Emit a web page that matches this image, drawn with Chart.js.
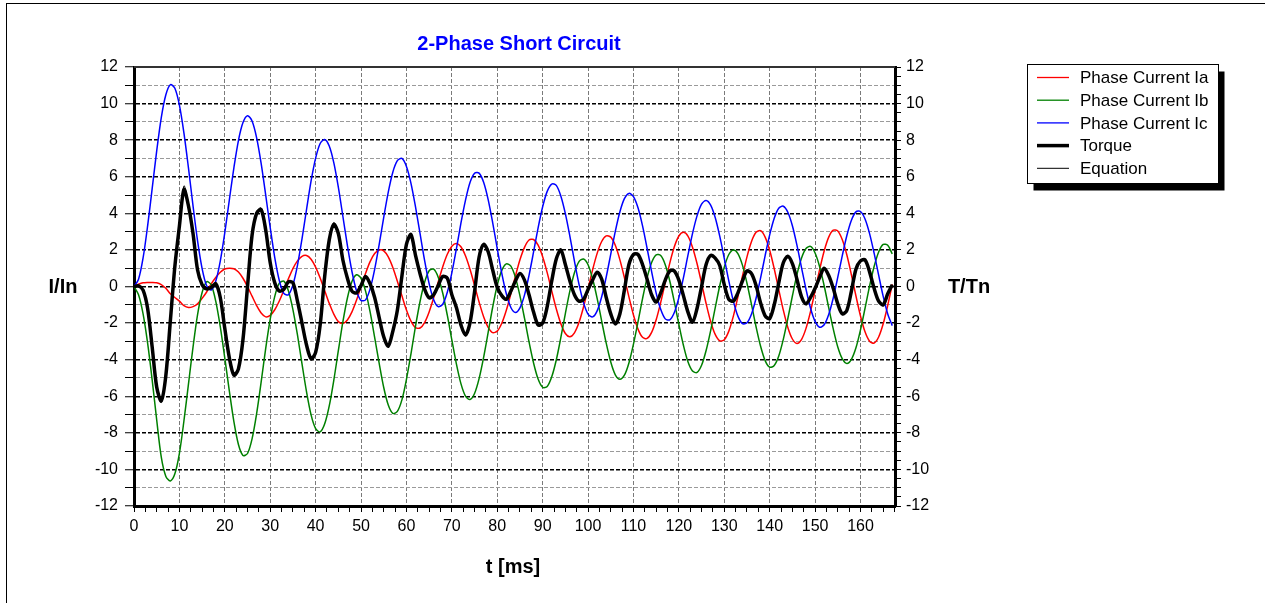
<!DOCTYPE html>
<html>
<head>
<meta charset="utf-8">
<title>2-Phase Short Circuit</title>
<script src="https://cdn.jsdelivr.net/npm/chart.js@4.4.1/dist/chart.umd.min.js"></script>
<style>
  html, body { margin: 0; padding: 0; background: #fff; overflow: hidden; }
  #frame { position: absolute; left: 6px; top: 3px; width: 1300px; height: 700px;
           border-left: 1px solid #000; border-top: 1px solid #000; }
  #wrap { position: absolute; left: 0; top: 0; width: 1265px; height: 603px; }
</style>
</head>
<body>
<div id="frame"></div>
<div id="wrap"><canvas id="shortCircuit" width="1265" height="603"></canvas></div>
<script>

var chartTitle = "2-Phase Short Circuit";
var seriesNames = ["Phase Current Ia", "Phase Current Ib", "Phase Current Ic", "Torque", "Equation"];

var timeMs = [0,1,2,3,4,5,6,7,8,9,10,11,12,13,14,15,16,17,18,19,20,21,22,23,24,25,26,27,28,29,
  30,31,32,33,34,35,36,37,38,39,40,41,42,43,44,45,46,47,48,49,50,51,52,53,54,55,56,57,58,59,
  60,61,62,63,64,65,66,67,68,69,70,71,72,73,74,75,76,77,78,79,80,81,82,83,84,85,86,87,88,89,
  90,91,92,93,94,95,96,97,98,99,100,101,102,103,104,105,106,107,108,109,110,111,112,113,114,
  115,116,117,118,119,120,121,122,123,124,125,126,127,128,129,130,131,132,133,134,135,136,137,
  138,139,140,141,142,143,144,145,146,147,148,149,150,151,152,153,154,155,156,157,158,159,160,
  161,162,163,164,165,166,167];

var currentA = [0,0.12,0.2,0.22,0.22,0.2,0.1,-0.1,-0.4,-0.6,-0.8,-1.05,-1.15,-1.1,-0.95,-0.65,-0.3,
  0.14,0.49,0.78,0.96,1.0,0.97,0.79,0.45,-0.01,-0.53,-1.04,-1.45,-1.66,-1.58,-1.27,-0.79,-0.2,
  0.42,0.98,1.4,1.65,1.69,1.49,1.06,0.46,-0.23,-0.92,-1.51,-1.92,-2.02,-1.83,-1.39,-0.75,-0.01,
  0.72,1.36,1.8,1.99,1.95,1.62,1.04,0.29,-0.51,-1.28,-1.89,-2.25,-2.27,-1.97,-1.39,-0.62,0.25,
  1.08,1.76,2.2,2.35,2.17,1.68,0.94,0.06,-0.85,-1.65,-2.23,-2.52,-2.44,-2.01,-1.3,-0.4,0.56,
  1.46,2.14,2.54,2.57,2.26,1.63,0.76,-0.24,-1.22,-2.03,-2.57,-2.75,-2.53,-1.97,-1.12,-0.12,0.91,
  1.81,2.46,2.77,2.7,2.25,1.47,0.49,-0.57,-1.56,-2.33,-2.78,-2.84,-2.51,-1.82,-0.87,0.21,1.28,
  2.17,2.76,2.97,2.76,2.15,1.26,0.18,-0.93,-1.91,-2.62,-2.97,-2.91,-2.44,-1.62,-0.57,0.56,1.62,
  2.46,2.96,3.05,2.7,1.98,0.97,-0.17,-1.29,-2.24,-2.87,-3.11,-2.9,-2.29,-1.36,-0.24,0.92,1.94,
  2.7,3.08,3.03,2.55,1.72,0.64,-0.52,-1.61,-2.48,-2.99,-3.09,-2.76,-2.04,-1.03,0.12];

var currentB = [0,-0.45,-1.5,-3.1,-5.1,-7.3,-9.32,-10.37,-10.63,-10.24,-9.12,-7.34,-5.32,-3.31,-1.54,-0.33,0.26,
  0.09,-0.8,-2.2,-3.92,-5.72,-7.39,-8.64,-9.24,-9.13,-8.33,-6.96,-5.23,-3.4,-1.79,-0.54,0.18,0.29,
  -0.23,-1.26,-2.65,-4.23,-5.76,-7.02,-7.77,-7.95,-7.51,-6.53,-5.13,-3.51,-1.94,-0.63,0.27,0.64,0.45,
  -0.25,-1.39,-2.78,-4.2,-5.52,-6.48,-6.94,-6.83,-6.2,-5.08,-3.68,-2.17,-0.82,0.23,0.86,0.95,0.51,
  -0.37,-1.57,-2.92,-4.23,-5.31,-5.99,-6.18,-5.85,-5.04,-3.87,-2.51,-1.12,0.07,0.88,1.24,1.11,0.5,
  -0.51,-1.73,-3.03,-4.18,-5.06,-5.51,-5.47,-4.94,-4.02,-2.8,-1.48,-0.24,0.75,1.36,1.5,1.19,0.42,
  -0.65,-1.89,-3.1,-4.13,-4.83,-5.07,-4.85,-4.18,-3.15,-1.93,-0.66,0.47,1.31,1.73,1.69,1.19,0.3,
  -0.84,-2.07,-3.21,-4.12,-4.62,-4.7,-4.31,-3.5,-2.41,-1.17,0.04,1.06,1.75,2.0,1.8,1.17,0.18,
  -0.99,-2.2,-3.27,-4.05,-4.41,-4.32,-3.8,-2.89,-1.75,-0.52,0.65,1.55,2.08,2.19,1.83,1.08,0.04,
  -1.16,-2.32,-3.31,-3.96,-4.21,-3.98,-3.35,-2.37,-1.19,0.02,1.09,1.89,2.3,2.25,1.78];

var currentC = [0,0.4,1.56,3.31,5.35,7.41,9.22,10.47,11.03,10.84,9.92,8.39,6.47,4.41,2.49,0.98,0.04,
  -0.19,0.29,1.39,2.95,4.74,6.49,7.98,8.96,9.34,9.05,8.14,6.73,5.01,3.22,1.58,0.33,-0.38,
  -0.45,0.09,1.16,2.61,4.21,5.77,7.02,7.82,8.04,7.68,6.77,5.43,3.84,2.23,0.82,-0.23,-0.76,
  -0.73,-0.13,0.94,2.3,3.78,5.16,6.25,6.88,7.0,6.56,5.64,4.35,2.89,1.43,0.16,-0.72,-1.1,
  -0.96,-0.31,0.75,2.06,3.46,4.71,5.68,6.19,6.2,5.7,4.75,3.48,2.07,0.72,-0.4,-1.15,-1.42,
  -1.17,-0.47,0.61,1.89,3.21,4.36,5.2,5.6,5.53,4.95,3.98,2.74,1.39,0.13,-0.88,-1.51,-1.66,
  -1.33,-0.56,0.52,1.77,3.01,4.07,4.8,5.09,4.91,4.3,3.31,2.09,0.81,-0.36,-1.25,-1.77,-1.82,
  -1.42,-0.61,0.47,1.71,2.89,3.86,4.5,4.7,4.45,3.77,2.75,1.54,0.3,-0.8,-1.62,-2.03,-1.98,
  -1.5,-0.64,0.47,1.69,2.82,3.73,4.28,4.39,4.06,3.32,2.26,1.05,-0.15,-1.19,-1.91,-2.23,-2.09,
  -1.53,-0.63,0.51,1.7,2.79,3.62,4.08,4.1,3.69,2.89,1.82,0.62,-0.54,-1.5,-2.14];

var torque = [0,0.03,-0.2,-1.2,-3.3,-5.5,-6.25,-4.9,-1.9,1.1,3.3,5.3,4.4,2.9,0.9,0.1,-0.13,
  -0.05,0.15,-0.6,-2.3,-3.9,-4.85,-4.5,-2.9,0.0,2.8,4.0,4.2,3.1,1.3,0.2,-0.25,-0.15,
  0.25,0.2,-0.8,-2.0,-3.2,-3.95,-3.6,-2.1,0.56,2.55,3.4,2.9,1.45,0.45,-0.25,-0.35,0.05,
  0.55,0.15,-0.6,-1.7,-2.75,-3.26,-2.45,-1.3,0.56,2.3,2.84,1.7,0.7,-0.15,-0.62,-0.45,0.05,
  0.55,0.45,-0.45,-1.15,-2.1,-2.65,-1.99,-0.3,1.6,2.3,1.9,0.9,-0.05,-0.5,-0.7,-0.25,0.3,
  0.71,0.35,-0.45,-1.4,-2.1,-2.0,-1.1,0.3,1.5,2.0,1.2,0.3,-0.45,-0.8,-0.7,-0.16,0.35,
  0.78,0.4,-0.6,-1.5,-2.05,-1.5,-0.2,1.2,1.75,1.75,1.2,0.4,-0.45,-0.85,-0.35,0.35,0.85,
  0.85,0.35,-0.5,-1.4,-1.95,-1.2,0.0,1.2,1.7,1.55,1.15,0.1,-0.7,-0.8,-0.35,0.3,0.85,
  0.7,0.05,-0.9,-1.6,-1.75,-1.0,0.2,1.3,1.65,1.25,0.4,-0.55,-0.95,-0.6,-0.1,0.5,1.0,
  0.6,-0.1,-0.95,-1.5,-1.3,-0.25,0.95,1.4,1.45,0.8,-0.1,-0.8,-1.0,-0.4,0.1];

var equation = [0,0.03,-0.2,-1.2,-3.3,-5.55,-6.35,-4.95,-1.9,1.1,3.35,5.5,4.5,2.9,0.9,0.1,-0.13,
  -0.05,0.15,-0.6,-2.3,-3.95,-4.9,-4.55,-2.9,0.0,2.85,4.1,4.3,3.1,1.3,0.2,-0.25,-0.15,
  0.25,0.2,-0.8,-2.0,-3.2,-4.0,-3.6,-2.1,0.56,2.6,3.5,2.9,1.45,0.45,-0.25,-0.35,0.05,
  0.55,0.15,-0.6,-1.7,-2.75,-3.3,-2.45,-1.3,0.56,2.3,2.9,1.7,0.7,-0.15,-0.62,-0.45,0.05,
  0.55,0.45,-0.45,-1.15,-2.1,-2.7,-1.99,-0.3,1.6,2.35,1.9,0.9,-0.05,-0.5,-0.7,-0.25,0.3,
  0.71,0.35,-0.45,-1.4,-2.1,-2.0,-1.1,0.3,1.5,2.05,1.2,0.3,-0.45,-0.8,-0.7,-0.16,0.35,
  0.78,0.4,-0.6,-1.5,-2.05,-1.5,-0.2,1.2,1.8,1.75,1.2,0.4,-0.45,-0.85,-0.35,0.35,0.85,
  0.9,0.35,-0.5,-1.4,-1.95,-1.2,0.0,1.2,1.75,1.55,1.15,0.1,-0.7,-0.85,-0.35,0.3,0.9,
  0.7,0.05,-0.9,-1.6,-1.8,-1.0,0.2,1.3,1.7,1.25,0.4,-0.55,-0.95,-0.6,-0.1,0.5,1.0,
  0.6,-0.1,-0.95,-1.55,-1.3,-0.25,0.95,1.45,1.45,0.8,-0.1,-0.8,-1.05,-0.4,0.1];

var xTickLabels = [0,10,20,30,40,50,60,70,80,90,100,110,120,130,140,150,160];
var yTickLabels = [-12,-10,-8,-6,-4,-2,0,2,4,6,8,10,12];

var seriesColors = ['#ff0000', '#008000', '#0000ff', '#000000', '#000000'];
var seriesWidths = [1.5, 1.5, 1.5, 3.5, 1];

var tMax = 167.6;
var xMinorStep = 2.5;
var yLeftStep = 1;
var yRightStep = 0.5;

function stepTicks(min, max, step) {
    var out = [];
    for (var v = min; v <= max + 1e-9; v += step) {
        out.push({ value: Math.round(v * 100) / 100 });
    }
    return out;
}

function isLabel(list, v) {
    return list.indexOf(v) !== -1;
}

var fontFamily = '"Liberation Sans", Arial, sans-serif';

function toPoints(values) {
    return timeMs.map(function (t, i) { return { x: t, y: values[i] }; });
}

var allSeries = [currentA, currentB, currentC, torque, equation];
var drawOrder = [4, 3, 2, 1, 0];

// title, side labels, legend box and the plot's top edge
var decorations = {
    id: 'decorations',
    afterDraw: function (chart) {
        var ctx = chart.ctx;
        var a = chart.chartArea;
        ctx.save();

        ctx.strokeStyle = '#333';
        ctx.lineWidth = 2;
        ctx.beginPath();
        ctx.moveTo(a.left, a.top);
        ctx.lineTo(a.right, a.top);
        ctx.stroke();

        ctx.textBaseline = 'middle';
        ctx.textAlign = 'center';
        ctx.fillStyle = '#0000ff';
        ctx.font = 'bold 20px ' + fontFamily;
        ctx.fillText(chartTitle, 519, 44);

        ctx.fillStyle = '#000';
        ctx.fillText('I/In', 63, 287);
        ctx.fillText('T/Tn', 969, 287);
        ctx.fillText('t [ms]', 513, 567);

        // legend
        var bx = 1027.5, by = 64.5, bw = 191, bh = 119;
        ctx.fillStyle = '#000';
        ctx.fillRect(bx + 6, by + 7, bw, bh);
        ctx.fillStyle = '#fff';
        ctx.fillRect(bx, by, bw, bh);
        ctx.strokeStyle = '#000';
        ctx.lineWidth = 1;
        ctx.strokeRect(bx, by, bw, bh);

        ctx.textAlign = 'left';
        ctx.font = '17px ' + fontFamily;
        for (var i = 0; i < seriesNames.length; i++) {
            var ry = 77.5 + i * 22.7;
            ctx.strokeStyle = seriesColors[i];
            ctx.lineWidth = seriesWidths[i] === 1.5 ? 1.3 : seriesWidths[i];
            ctx.beginPath();
            ctx.moveTo(1037, ry);
            ctx.lineTo(1069, ry);
            ctx.stroke();
            ctx.fillStyle = '#000';
            ctx.fillText(seriesNames[i], 1080, ry + 1);
        }
        ctx.restore();
    }
};

var ctx = document.getElementById('shortCircuit').getContext('2d');
var chart = new Chart(ctx, {
    type: 'line',
    data: {
        datasets: allSeries.map(function (values, i) {
            return {
                label: seriesNames[i],
                data: toPoints(values),
                borderColor: seriesColors[i],
                borderWidth: seriesWidths[i],
                pointRadius: 0,
                tension: 0.3,
                fill: false,
                order: drawOrder[i]
            };
        })
    },
    options: {
        responsive: false,
        animation: false,
        layout: { padding: { top: 67, left: 0, right: 0, bottom: 0 } },
        plugins: {
            legend: { display: false },
            tooltip: { enabled: false },
            title: { display: false }
        },
        scales: {
            x: {
                type: 'linear',
                position: 'bottom',
                min: 0,
                max: tMax,
                afterBuildTicks: function (scale) { scale.ticks = stepTicks(0, tMax, xMinorStep); },
                afterFit: function (scale) { scale.height = 97; },
                ticks: {
                    autoSkip: false,
                    maxRotation: 0,
                    padding: 5,
                    color: '#000',
                    font: { family: fontFamily, size: 16 },
                    callback: function (v) { return isLabel(xTickLabels, v) ? v : ''; }
                },
                grid: {
                    color: function (c) { return c.tick && isLabel(xTickLabels, c.tick.value) ? '#7a7a7a' : 'rgba(0,0,0,0)'; },
                    lineWidth: 1,
                    tickColor: '#000',
                    tickLength: 6,
                    tickWidth: 1
                },
                border: { display: true, color: '#000', width: 3, dash: [4, 2] }
            },
            y: {
                type: 'linear',
                position: 'left',
                min: -12,
                max: 12,
                afterBuildTicks: function (scale) { scale.ticks = stepTicks(-12, 12, yLeftStep); },
                afterFit: function (scale) { scale.width = 134; },
                ticks: {
                    autoSkip: false,
                    padding: 7,
                    color: '#000',
                    font: { family: fontFamily, size: 16 },
                    callback: function (v) { return isLabel(yTickLabels, v) ? v : ''; }
                },
                grid: {
                    color: function (c) { return c.tick && isLabel(yTickLabels, c.tick.value) ? '#000' : '#9a9a9a'; },
                    lineWidth: function (c) { return c.tick && isLabel(yTickLabels, c.tick.value) ? 1.5 : 1; },
                    tickColor: '#000',
                    tickLength: 9,
                    tickWidth: 1
                },
                border: { display: true, color: '#000', width: 3, dash: [4, 2] }
            },
            y2: {
                type: 'linear',
                position: 'right',
                min: -12,
                max: 12,
                afterBuildTicks: function (scale) { scale.ticks = stepTicks(-12, 12, yRightStep); },
                afterFit: function (scale) { scale.width = 370; },
                ticks: {
                    autoSkip: false,
                    padding: 5,
                    color: '#000',
                    font: { family: fontFamily, size: 16 },
                    callback: function (v) { return isLabel(yTickLabels, v) ? v : ''; }
                },
                grid: {
                    drawOnChartArea: false,
                    color: '#000',
                    tickColor: '#000',
                    tickLength: 6,
                    tickWidth: 1
                },
                border: { display: true, color: '#000', width: 3 }
            }
        }
    },
    plugins: [decorations]
});
</script>
</body>
</html>
